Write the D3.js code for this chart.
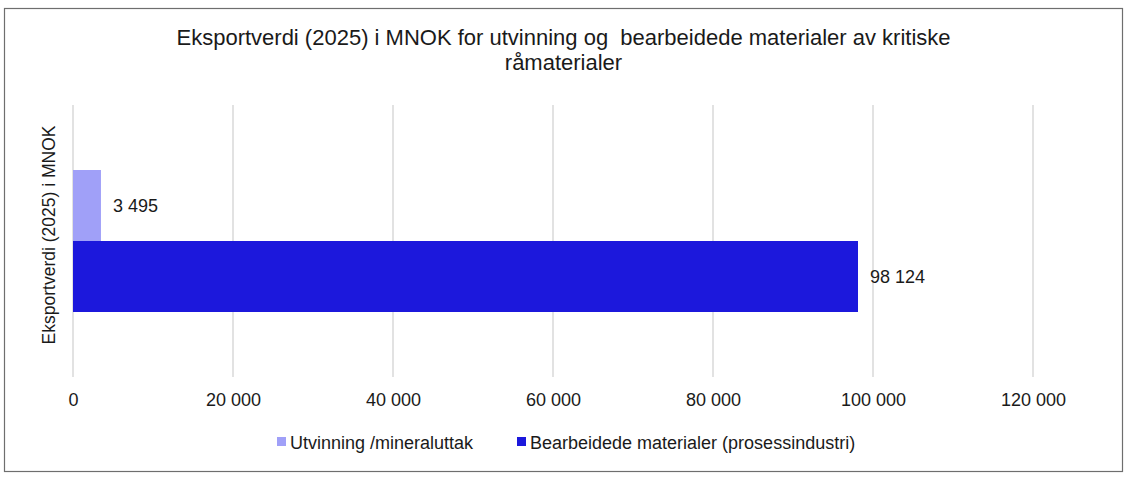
<!DOCTYPE html>
<html>
<head>
<meta charset="utf-8">
<script src="https://cdn.jsdelivr.net/npm/d3@7"></script>
<style>
  body { margin: 0; background: #fff; }
  text { font-family: "Liberation Sans", Arial, sans-serif; fill: #1a1a1a; }
</style>
</head>
<body>
<div class="canvas"></div>
<script>
// data
const categories = ['Eksportverdi (2025) i MNOK'];
const seriesNames = ['Utvinning /mineraluttak', 'Bearbeidede materialer (prosessindustri)'];
const seriesValues = [3495, 98124];
const seriesColors = ['#a0a0f8', '#1c18dc'];
const tickValues = [0, 20000, 40000, 60000, 80000, 100000, 120000];
const titleLines = ['Eksportverdi (2025) i MNOK for utvinning og  bearbeidede materialer av kritiske', 'råmaterialer'];

const width = 1130, height = 484;
const margin = {top: 105, right: 97, bottom: 107, left: 73};
const graphWidth = width - margin.left - margin.right;
const graphHeight = height - margin.top - margin.bottom;

const locale = d3.formatLocale({decimal: ',', thousands: ' ', grouping: [3], currency: ['', ' kr']});
const fmt = locale.format(',d');

const svg = d3.select('.canvas')
  .append('svg')
    .attr('width', width)
    .attr('height', height);

// outer frame
svg.append('rect')
  .attr('x', 4.5)
  .attr('y', 8.5)
  .attr('width', 1118)
  .attr('height', 463)
  .attr('fill', 'none')
  .attr('stroke', '#6e6e6e')
  .attr('stroke-width', 1.2);

// title
svg.append('text')
  .attr('x', 563.5)
  .attr('y', 45)
  .attr('text-anchor', 'middle')
  .style('font-size', '22px')
  .style('white-space', 'pre')
  .selectAll('tspan')
  .data(titleLines)
  .enter()
  .append('tspan')
    .attr('x', 563.5)
    .attr('dy', (d, i) => i === 0 ? 0 : 25)
    .text(d => d);

const graph = svg.append('g')
  .attr('transform', `translate(${margin.left}, ${margin.top})`);

const x = d3.scaleLinear()
  .domain([0, 120000])
  .range([0, graphWidth]);

const y = d3.scaleBand()
  .domain(categories)
  .range([0, graphHeight])
  .padding(0.314);

const ySeries = d3.scaleBand()
  .domain(seriesNames)
  .range([0, y.bandwidth()]);

// gridlines
graph.selectAll('line.grid')
  .data(tickValues)
  .enter()
  .append('line')
    .attr('class', 'grid')
    .attr('x1', d => x(d))
    .attr('x2', d => x(d))
    .attr('y1', 0)
    .attr('y2', graphHeight)
    .attr('stroke', '#d9d9d9')
    .attr('stroke-width', 1.5);

// x axis
const xAxis = d3.axisBottom(x)
  .tickValues(tickValues)
  .tickSize(0)
  .tickPadding(16)
  .tickFormat(fmt);

const xAxisGroup = graph.append('g')
  .attr('transform', `translate(0, ${graphHeight})`)
  .call(xAxis);
xAxisGroup.select('.domain').remove();
xAxisGroup.selectAll('text')
  .style('font-size', '18px')
  .style('font-family', '"Liberation Sans", Arial, sans-serif')
  .attr('fill', '#1a1a1a');

// bars
const rows = seriesNames.map((name, i) => ({name, value: seriesValues[i], color: seriesColors[i], cat: categories[0]}));

graph.selectAll('rect.bar')
  .data(rows)
  .enter()
  .append('rect')
    .attr('class', 'bar')
    .attr('x', x(0))
    .attr('y', d => y(d.cat) + ySeries(d.name))
    .attr('width', d => x(d.value) - x(0))
    .attr('height', ySeries.bandwidth())
    .attr('fill', d => d.color);

// data labels
graph.selectAll('text.label')
  .data(rows)
  .enter()
  .append('text')
    .attr('class', 'label')
    .attr('x', d => x(d.value) + 12)
    .attr('y', d => y(d.cat) + ySeries(d.name) + ySeries.bandwidth() / 2)
    .attr('dy', '0.35em')
    .style('font-size', '18px')
    .text(d => fmt(d.value));

// y axis title
svg.append('text')
  .attr('transform', 'translate(55, 235) rotate(-90)')
  .attr('text-anchor', 'middle')
  .style('font-size', '17.5px')
  .text(categories[0]);

// legend
const legendX = [277, 517];
const legend = svg.selectAll('g.legend')
  .data(rows)
  .enter()
  .append('g')
    .attr('class', 'legend')
    .attr('transform', (d, i) => `translate(${legendX[i]}, 449)`);

legend.append('rect')
  .attr('x', 0)
  .attr('y', -12)
  .attr('width', 9)
  .attr('height', 9)
  .attr('fill', d => d.color);

legend.append('text')
  .attr('x', 13)
  .attr('y', 0)
  .style('font-size', '18px')
  .text(d => d.name);
</script>
</body>
</html>
